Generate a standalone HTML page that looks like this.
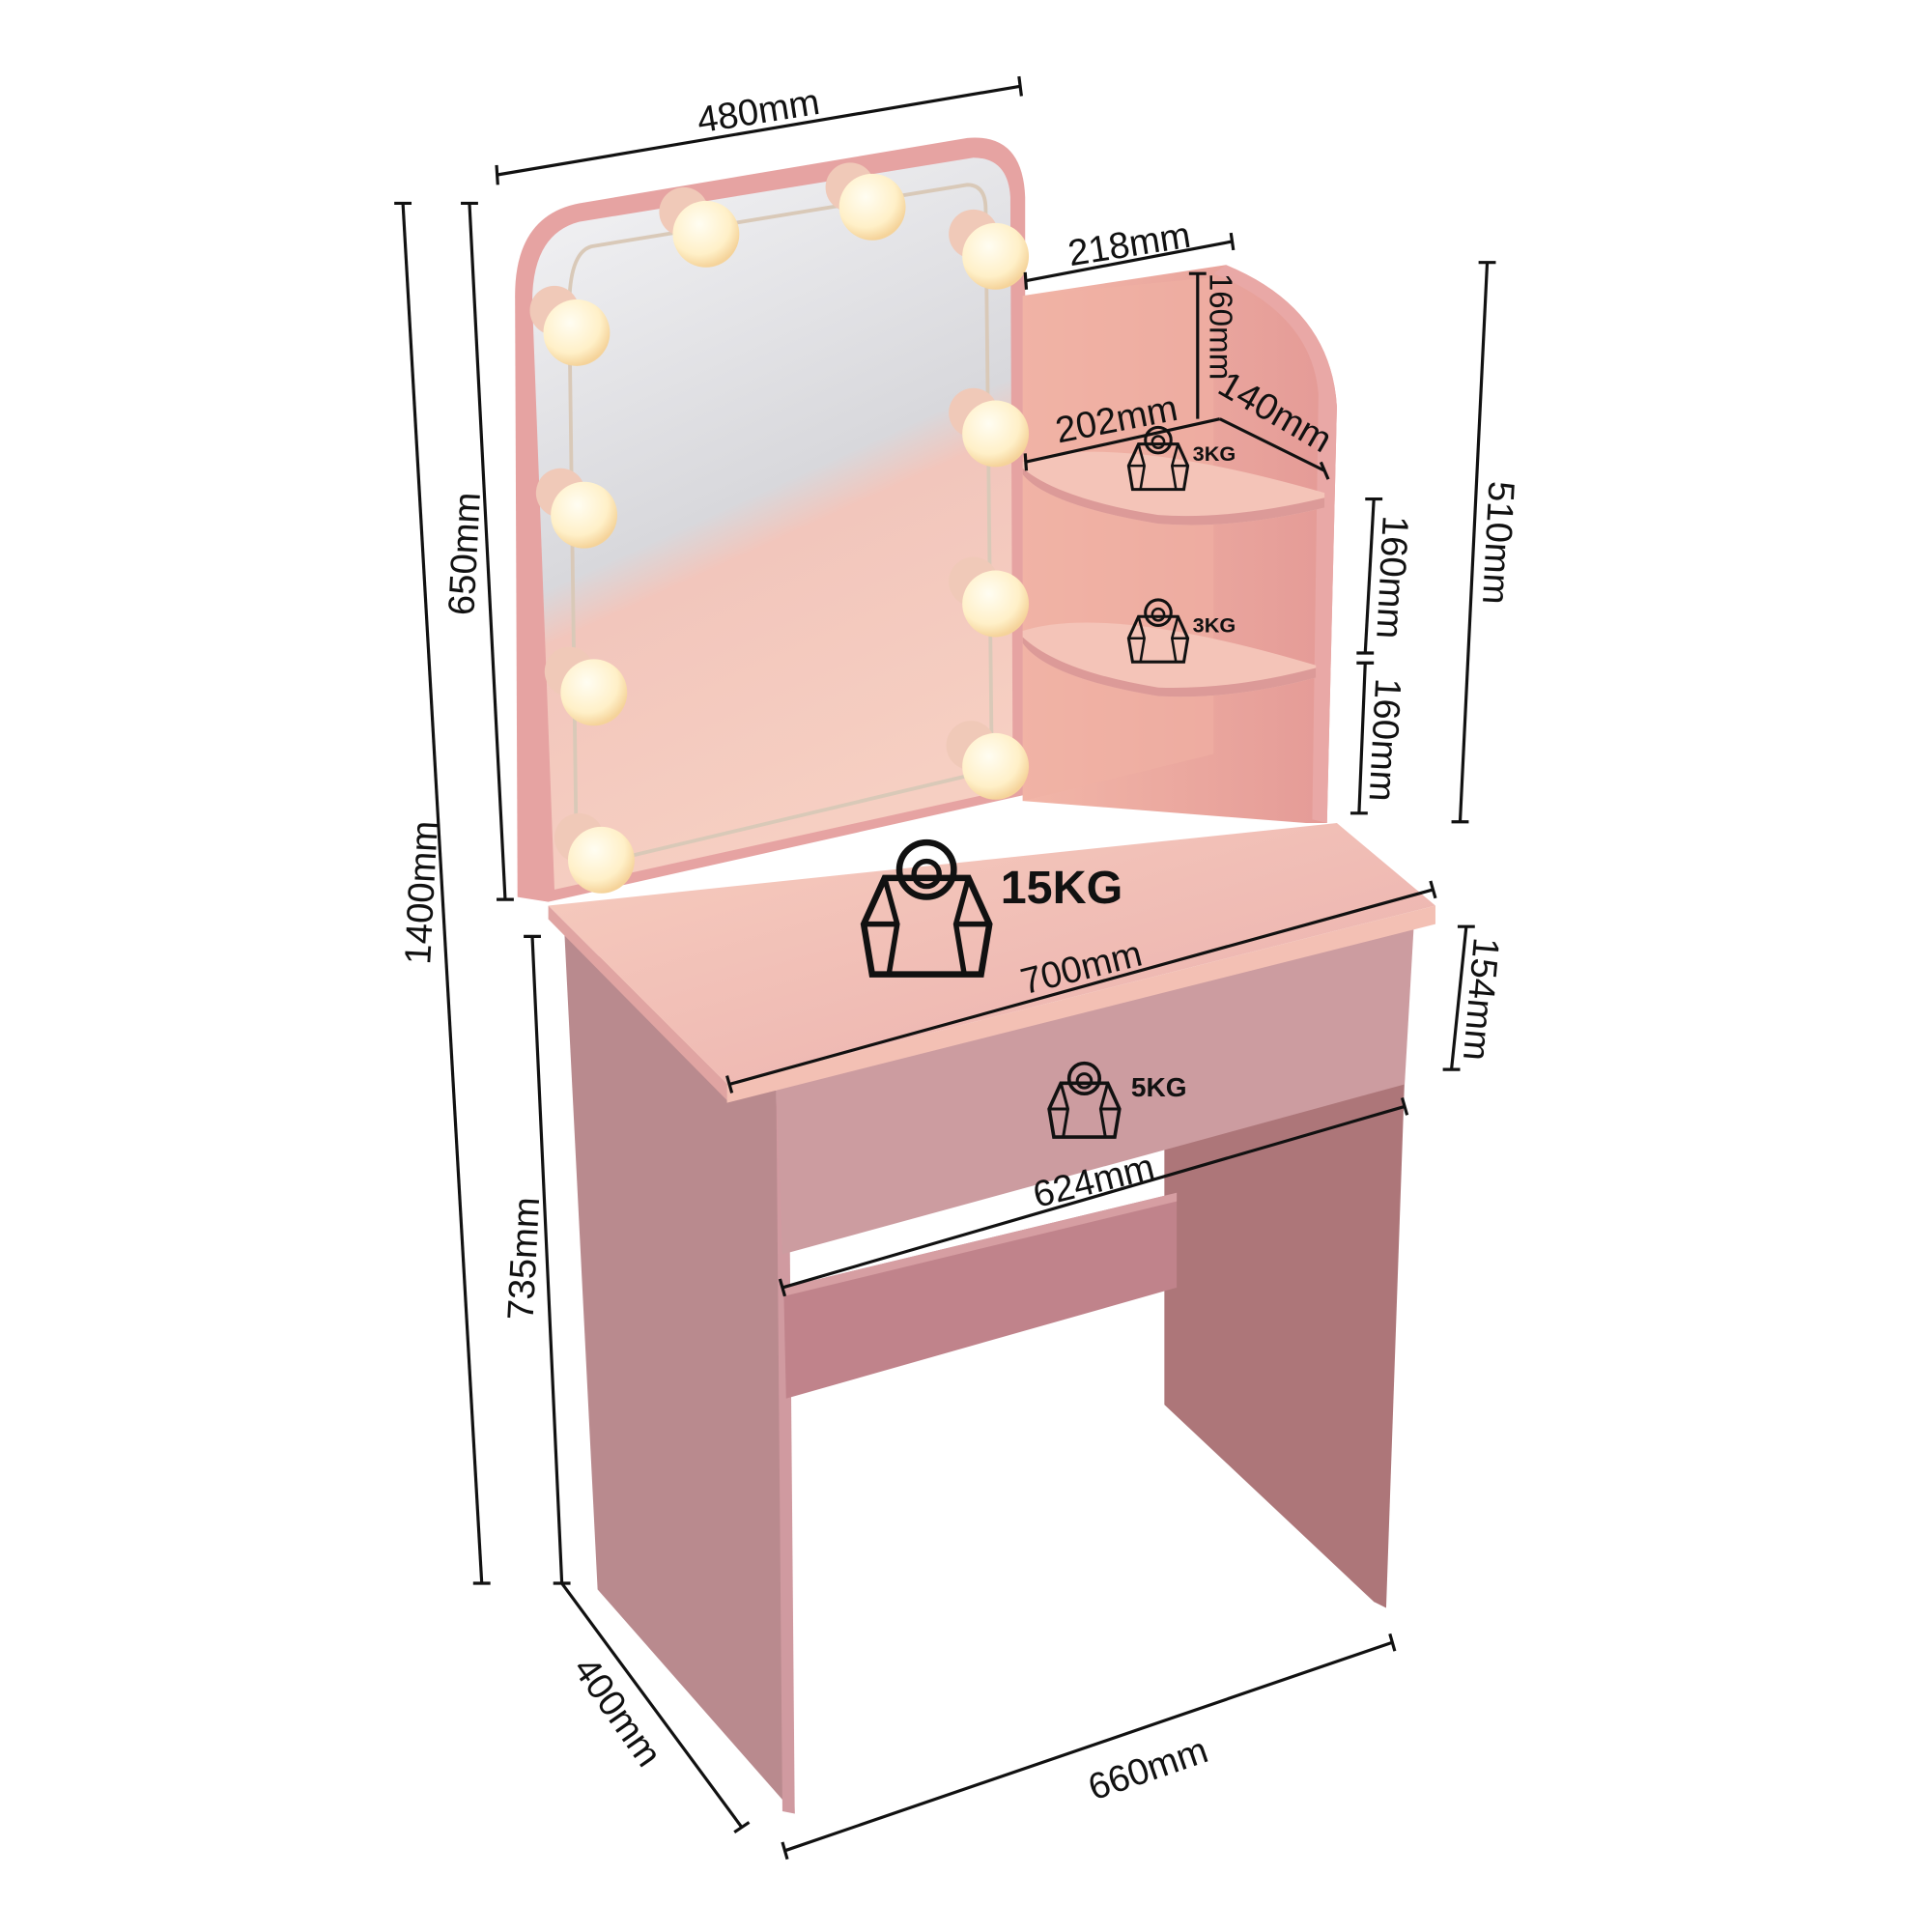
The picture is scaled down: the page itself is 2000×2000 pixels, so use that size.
<!DOCTYPE html>
<html><head><meta charset="utf-8"><style>
html,body{margin:0;padding:0;background:#fff;width:2000px;height:2000px;overflow:hidden}
svg{display:block}
text{font-family:"Liberation Sans",sans-serif;fill:#111}
</style></head><body>
<svg width="2000" height="2000" viewBox="0 0 1568 1568" xmlns="http://www.w3.org/2000/svg">
<defs>
<radialGradient id="bulb" cx="40%" cy="35%" r="65%"><stop offset="0" stop-color="#fffdf2"/><stop offset="0.7" stop-color="#fff0c8"/><stop offset="1" stop-color="#f5d39a"/></radialGradient>
<linearGradient id="glass" x1="0" y1="0" x2="0.3" y2="1"><stop offset="0" stop-color="#f4f4f6"/><stop offset="0.55" stop-color="#d8d8dc"/><stop offset="0.62" stop-color="#f2c6bc"/><stop offset="1" stop-color="#f6cfc2"/></linearGradient>
<linearGradient id="top" x1="0" y1="0" x2="1" y2="1"><stop offset="0" stop-color="#f7cdbf"/><stop offset="1" stop-color="#eaaeac"/></linearGradient>
<linearGradient id="shelf" x1="0" y1="0" x2="1" y2="0"><stop offset="0" stop-color="#f2b6a8"/><stop offset="1" stop-color="#e49a96"/></linearGradient>
<g id="wt"><path d="M-20,-22 L20,-22 L30,0 L26,24 L-26,24 L-30,0 Z" fill="none" stroke="#111" stroke-width="3"/><circle cx="0" cy="-26" r="13" fill="none" stroke="#111" stroke-width="3"/><circle cx="0" cy="-24" r="6" fill="none" stroke="#111" stroke-width="2.5"/><path d="M-20,-22 L-14,0 L-18,24 M20,-22 L14,0 L18,24 M-30,0 L-14,0 M30,0 L14,0" fill="none" stroke="#111" stroke-width="2.5"/></g>
</defs>

<path d="M418,240 Q418,175 470,165 L785,112 Q830,108 832,160 L832,645 L445,732 L420,728 Z" fill="#e6a3a2"/>
<path d="M432,245 Q432,190 470,180 L790,128 Q818,128 820,160 L822,640 L450,722 Z" fill="url(#glass)"/>
<path d="M462,250 Q462,205 480,200 L785,150 Q800,150 800,170 L805,625 L468,705 Z" fill="none" stroke="#d9c9b8" stroke-width="3"/>

<path d="M830,240 L995,215 Q1080,250 1085,330 L1077,668 L1060,668 L830,650 Z" fill="url(#shelf)"/>
<path d="M995,215 Q1080,250 1085,330 L1077,668 L1065,665 L1070,320 Q1065,255 985,222 Z" fill="#e9a8a6"/>
<path d="M830,240 L985,225 L985,612 L830,650 Z" fill="#f0b0a4" opacity="0.6"/>
<path d="M830,375 Q900,350 1075,400 L1075,412 Q1000,430 940,425 Q850,410 830,385 Z" fill="#f4c4b8"/>
<path d="M830,385 Q850,410 940,425 Q1000,430 1075,412 L1075,404 Q1000,422 940,418 Q860,405 830,380 Z" fill="#dc9a98"/>
<path d="M830,512 Q900,490 1068,540 L1068,550 Q1000,568 940,565 Q850,550 830,522 Z" fill="#f4c4b8"/>
<path d="M830,522 Q850,550 940,565 Q1000,568 1068,550 L1068,542 Q1000,560 940,558 Q860,545 830,517 Z" fill="#dc9a98"/>

<g>
<circle cx="450" cy="252" r="20" fill="#f0c9b8"/><circle cx="468" cy="270" r="27" fill="url(#bulb)"/>
<circle cx="555" cy="172" r="20" fill="#f0c9b8"/><circle cx="573" cy="190" r="27" fill="url(#bulb)"/>
<circle cx="690" cy="152" r="20" fill="#f0c9b8"/><circle cx="708" cy="168" r="27" fill="url(#bulb)"/>
<circle cx="790" cy="190" r="20" fill="#f0c9b8"/><circle cx="808" cy="208" r="27" fill="url(#bulb)"/>
<circle cx="790" cy="335" r="20" fill="#f0c9b8"/><circle cx="808" cy="352" r="27" fill="url(#bulb)"/>
<circle cx="455" cy="400" r="20" fill="#f0c9b8"/><circle cx="474" cy="418" r="27" fill="url(#bulb)"/>
<circle cx="790" cy="472" r="20" fill="#f0c9b8"/><circle cx="808" cy="490" r="27" fill="url(#bulb)"/>
<circle cx="462" cy="545" r="20" fill="#f0c9b8"/><circle cx="482" cy="562" r="27" fill="url(#bulb)"/>
<circle cx="788" cy="605" r="20" fill="#f0c9b8"/><circle cx="808" cy="622" r="27" fill="url(#bulb)"/>
<circle cx="470" cy="680" r="20" fill="#f0c9b8"/><circle cx="488" cy="698" r="27" fill="url(#bulb)"/>
</g>

<path d="M458,755 L630,885 L645,1472 L485,1290 Z" fill="#b98a8e"/>
<path d="M630,885 L640,885 L645,1472 L635,1470 Z" fill="#d09aa0"/>
<path d="M945,930 L1140,875 L1125,1305 L1115,1300 L945,1140 Z" fill="#ad7679"/>
<path d="M636,1045 L955,968 L955,1045 L638,1135 Z" fill="#c0838b"/>
<path d="M636,1045 L955,968 L955,975 L636,1052 Z" fill="#d69ea2"/>
<path d="M630,880 L1148,742 L1140,880 L635,1018 Z" fill="#cc9ca0"/>
<path d="M445,735 L1085,668 L1165,735 L590,880 Z" fill="url(#top)"/>
<path d="M445,735 L590,880 L590,893 L445,746 Z" fill="#e0a4a2"/>
<path d="M590,880 L1165,735 L1165,750 L590,895 Z" fill="#f3c0b4"/>

<g transform="translate(752,750) scale(1.7)"><use href="#wt"/></g>
<text x="812" y="733" font-size="38" font-weight="bold">15KG</text>
<g transform="translate(940,378) scale(0.8)"><use href="#wt"/></g>
<text x="968" y="374" font-size="17" font-weight="bold">3KG</text>
<g transform="translate(940,518) scale(0.8)"><use href="#wt"/></g>
<text x="968" y="513" font-size="17" font-weight="bold">3KG</text>
<g transform="translate(880,900) scale(0.95)"><use href="#wt"/></g>
<text x="918" y="890" font-size="22" font-weight="bold">5KG</text>

<g stroke="#111" stroke-width="2.5" fill="none">
<line x1="403" y1="142" x2="828" y2="70"/><line x1="403" y1="134" x2="404" y2="150"/><line x1="827" y1="62" x2="829" y2="78"/>
<line x1="327" y1="165" x2="391" y2="1285"/><line x1="320" y1="165" x2="334" y2="165"/><line x1="384" y1="1285" x2="398" y2="1285"/>
<line x1="381" y1="165" x2="410" y2="730"/><line x1="374" y1="165" x2="388" y2="165"/><line x1="403" y1="730" x2="417" y2="730"/>
<line x1="432" y1="760" x2="456" y2="1285"/><line x1="425" y1="760" x2="439" y2="760"/><line x1="449" y1="1285" x2="463" y2="1285"/>
<line x1="456" y1="1285" x2="602" y2="1483"/><line x1="596" y1="1487" x2="608" y2="1479"/>
<line x1="637" y1="1502" x2="1130" y2="1333"/><line x1="635" y1="1495" x2="639" y2="1509"/><line x1="1128" y1="1326" x2="1132" y2="1340"/>
<line x1="1207" y1="213" x2="1185" y2="667"/><line x1="1200" y1="213" x2="1214" y2="213"/><line x1="1178" y1="667" x2="1192" y2="667"/>
<line x1="1115" y1="405" x2="1108" y2="530"/><line x1="1108" y1="405" x2="1122" y2="405"/><line x1="1101" y1="530" x2="1115" y2="530"/>
<line x1="1108" y1="538" x2="1103" y2="660"/><line x1="1101" y1="538" x2="1115" y2="538"/><line x1="1096" y1="660" x2="1110" y2="660"/>
<line x1="1190" y1="752" x2="1178" y2="868"/><line x1="1183" y1="752" x2="1197" y2="752"/><line x1="1171" y1="868" x2="1185" y2="868"/>
<line x1="832" y1="228" x2="1000" y2="196"/><line x1="832" y1="221" x2="833" y2="235"/><line x1="999" y1="189" x2="1001" y2="203"/>
<line x1="972" y1="222" x2="972" y2="340"/><line x1="965" y1="222" x2="979" y2="222"/>
<line x1="832" y1="375" x2="990" y2="340"/><line x1="832" y1="368" x2="833" y2="382"/>
<line x1="990" y1="340" x2="1075" y2="382"/><line x1="1072" y1="375" x2="1078" y2="389"/>
<line x1="592" y1="880" x2="1163" y2="722"/><line x1="590" y1="873" x2="594" y2="887"/><line x1="1161" y1="715" x2="1165" y2="729"/>
<line x1="635" y1="1045" x2="1140" y2="898"/><line x1="633" y1="1038" x2="637" y2="1052"/><line x1="1138" y1="891" x2="1142" y2="905"/>
</g>

<g font-size="30">
<text transform="translate(617,100) rotate(-9)" text-anchor="middle">480mm</text>
<text transform="translate(352,725) rotate(-87)" text-anchor="middle">1400mm</text>
<text transform="translate(387,450) rotate(-87)" text-anchor="middle">650mm</text>
<text transform="translate(435,1022) rotate(-87)" text-anchor="middle">735mm</text>
<text transform="translate(493,1395) rotate(55)" text-anchor="middle">400mm</text>
<text transform="translate(935,1445) rotate(-19)" text-anchor="middle">660mm</text>
<text transform="translate(1206,440) rotate(93)" text-anchor="middle">510mm</text>
<text transform="translate(1120,468) rotate(93)" text-anchor="middle">160mm</text>
<text transform="translate(1114,600) rotate(93)" text-anchor="middle">160mm</text>
<text transform="translate(1192,810) rotate(95)" text-anchor="middle">154mm</text>
<text transform="translate(918,208) rotate(-9)" text-anchor="middle">218mm</text>
<text transform="translate(982,265) rotate(90)" text-anchor="middle" font-size="26">160mm</text>
<text transform="translate(908,350) rotate(-11)" text-anchor="middle">202mm</text>
<text transform="translate(1030,343) rotate(30)" text-anchor="middle">140mm</text>
<text transform="translate(880,795) rotate(-14)" text-anchor="middle">700mm</text>
<text transform="translate(890,968) rotate(-14)" text-anchor="middle">624mm</text>
</g>
</svg>
</body></html>
